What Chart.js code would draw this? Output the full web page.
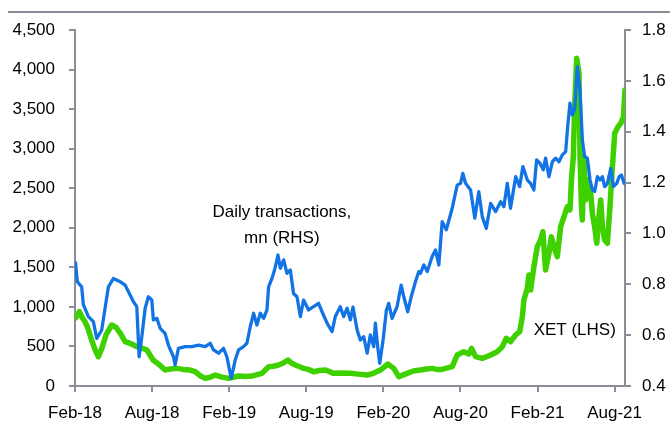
<!DOCTYPE html>
<html>
<head>
<meta charset="utf-8">
<script src="https://cdn.jsdelivr.net/npm/chart.js@4/dist/chart.umd.min.js"></script>
<style>
  html, body { margin: 0; padding: 0; background: #fff; }
  #wrap { width: 670px; height: 423px; position: relative; }
</style>
</head>
<body>
<div id="wrap"><canvas id="chart"></canvas></div>
<script>
'use strict';

// x positions are months since Feb-18
var tickMonths = [0, 6, 12, 18, 24, 30, 36, 42];
var tickLabels = ['Feb-18', 'Aug-18', 'Feb-19', 'Aug-19', 'Feb-20', 'Aug-20', 'Feb-21', 'Aug-21'];

// Daily transactions, mn (RHS)
var txMonths = [0.04, 0.18, 0.52, 0.65, 1.04, 1.43, 1.69, 2.08, 2.60, 2.99, 3.51, 3.90, 4.29, 4.54, 4.81, 4.99,
  5.20, 5.46, 5.71, 5.98, 6.10, 6.37, 6.63, 7.01, 7.27, 7.66, 7.79, 8.05, 8.57, 9.10, 9.61, 10.13, 10.52, 10.78,
  11.17, 11.56, 11.82, 12.16, 12.47, 12.73, 13.12, 13.38, 13.64, 13.90, 14.16, 14.42, 14.68, 14.94, 15.07, 15.33,
  15.53, 15.80, 15.98, 16.24, 16.50, 16.76, 17.01, 17.28, 17.54, 17.79, 18.18, 18.57, 18.96, 19.23, 19.62, 20.01,
  20.26, 20.65, 20.91, 21.18, 21.43, 21.64, 21.96, 22.21, 22.47, 22.74, 22.99, 23.25, 23.38, 23.56, 23.72, 23.98,
  24.24, 24.42, 24.68, 25.07, 25.39, 25.59, 25.90, 26.17, 26.50, 26.76, 26.89, 27.15, 27.42, 27.80, 28.06, 28.32,
  28.58, 28.90, 29.36, 29.75, 30.01, 30.19, 30.40, 30.79, 31.12, 31.43, 31.70, 32.01, 32.35, 32.74, 33.13, 33.38,
  33.65, 33.90, 34.30, 34.61, 34.86, 35.21, 35.46, 35.72, 35.93, 36.19, 36.45, 36.63, 36.89, 37.16, 37.41, 37.67,
  37.93, 38.19, 38.37, 38.53, 38.71, 38.89, 39.10, 39.31, 39.49, 39.67, 39.88, 40.09, 40.27, 40.45, 40.66, 40.87,
  41.05, 41.23, 41.44, 41.70, 41.91, 42.17, 42.35, 42.53, 42.74];
var txValues = [0.885, 0.81, 0.79, 0.72, 0.673, 0.653, 0.587, 0.62, 0.79, 0.823, 0.81, 0.797, 0.758, 0.732, 0.712, 0.515,
  0.594, 0.706, 0.751, 0.738, 0.66, 0.666, 0.627, 0.607, 0.561, 0.515, 0.483, 0.548, 0.555, 0.555, 0.561, 0.555, 0.568, 0.542,
  0.529, 0.548, 0.515, 0.43, 0.502, 0.542, 0.555, 0.568, 0.633, 0.686, 0.64, 0.686, 0.666, 0.699, 0.79, 0.823,
  0.856, 0.915, 0.863, 0.896, 0.843, 0.856, 0.764, 0.751, 0.673, 0.738, 0.699, 0.712, 0.725, 0.692, 0.647, 0.614,
  0.673, 0.712, 0.673, 0.706, 0.66, 0.71, 0.62, 0.581, 0.594, 0.529, 0.601, 0.555, 0.647, 0.555, 0.489, 0.581,
  0.699, 0.725, 0.666, 0.712, 0.797, 0.751, 0.692, 0.751, 0.81, 0.85, 0.843, 0.876, 0.85, 0.909, 0.935, 0.876,
  1.046, 1.014, 1.099, 1.19, 1.197, 1.236, 1.197, 1.171, 1.06, 1.164, 1.066, 1.02, 1.118, 1.086, 1.125, 1.105,
  1.197, 1.099, 1.223, 1.184, 1.263, 1.21, 1.197, 1.171, 1.289, 1.276, 1.25, 1.296, 1.223, 1.282, 1.296, 1.282,
  1.309, 1.322, 1.433, 1.512, 1.466, 1.486, 1.656, 1.564, 1.368, 1.302, 1.296, 1.21, 1.171, 1.165, 1.223, 1.21,
  1.223, 1.184, 1.197, 1.256, 1.184, 1.197, 1.223, 1.23, 1.197];

// XET (LHS)
var xetMonths = [0.04, 0.34, 0.55, 0.78, 1.01, 1.30, 1.56, 1.82, 2.10, 2.42, 2.86, 3.20, 3.51, 3.90, 4.29, 4.81,
  5.20, 5.59, 6.08, 6.63, 7.01, 7.40, 7.93, 8.42, 8.96, 9.35, 9.74, 10.13, 10.52, 10.91, 11.38, 11.95, 12.32,
  12.73, 13.25, 13.77, 14.11, 14.55, 15.07, 15.43, 15.85, 16.21, 16.58, 16.84, 17.15, 17.54, 17.79, 18.16, 18.57,
  19.02, 19.49, 20.13, 20.73, 21.43, 22.06, 22.74, 23.23, 23.77, 24.34, 24.81, 25.20, 25.85, 26.34, 26.89, 27.36,
  27.80, 28.14, 28.58, 28.92, 29.36, 29.75, 30.26, 30.65, 30.87, 31.18, 31.70, 32.03, 32.35, 32.87, 33.26, 33.57,
  33.90, 34.30, 34.61, 34.82, 34.94, 35.21, 35.33, 35.46, 35.72, 35.98, 36.24, 36.42, 36.63, 36.89, 37.08, 37.28,
  37.54, 37.80, 38.06, 38.32, 38.53, 38.64, 38.79, 38.89, 39.05, 39.23, 39.31, 39.42, 39.49, 39.62, 39.75, 39.93,
  40.14, 40.27, 40.45, 40.61, 40.78, 40.92, 41.05, 41.23, 41.44, 41.64, 41.83, 42.01, 42.27, 42.48, 42.69, 42.81];
var xetValues = [860, 939, 870, 813, 729, 580, 460, 370, 480, 650, 771, 740, 670, 560, 540, 497,
  480, 455, 329, 260, 202, 215, 223, 210, 202, 181, 130, 97, 110, 139, 115, 97, 110,
  126, 120, 126, 140, 160, 244, 250, 265, 290, 329, 290, 265, 240, 223, 210, 181,
  195, 202, 160, 165, 160, 150, 139, 160, 202, 278, 223, 118, 160, 190, 202, 215,
  223, 210, 210, 225, 244, 392, 434, 405, 476, 371, 350, 370, 392, 434, 497, 603,
  560, 645, 687, 876, 1087, 1235, 1403, 1213, 1508, 1761, 1845, 1950, 1466, 1677, 1887, 1761,
  1634, 2014, 2140, 2266, 2225, 2604, 2898, 3530, 4142, 3953, 2898, 2266, 2098, 2898, 2351, 2604,
  2436, 2183, 2014, 1804, 2140, 2351, 2014, 1845, 1804, 2266, 2772, 3194, 3278, 3320, 3404, 3741];

var axisGrey = '#8a8f97';
var blue = '#1274e4';
var green = '#3fd000';

function toPoints(xs, ys) {
  return xs.map(function (x, i) {
    return { x: x, y: ys[i] };
  });
}

// Text labels placed in data coordinates (month, LHS value)
var notes = [
  { text: 'Daily transactions,', month: 16.1, value: 2200, align: 'center' },
  { text: 'mn (RHS)', month: 16.1, value: 1870, align: 'center' },
  { text: 'XET (LHS)', month: 35.7, value: 708, align: 'left' }
];

var decorPlugin = {
  id: 'decor',
  beforeDraw: function (chart) {
    var ctx = chart.ctx;
    ctx.save();
    ctx.strokeStyle = axisGrey;
    ctx.lineWidth = 2;
    ctx.beginPath();
    ctx.moveTo(8, 12);
    ctx.lineTo(chart.width, 12);
    ctx.stroke();
    ctx.restore();
  },
  afterDraw: function (chart) {
    var ctx = chart.ctx,
        xs = chart.scales.x,
        ys = chart.scales.yL;
    ctx.save();
    ctx.fillStyle = '#000';
    ctx.font = '17px "Liberation Sans", Arial, sans-serif';
    ctx.textBaseline = 'middle';
    notes.forEach(function (n) {
      ctx.textAlign = n.align;
      ctx.fillText(n.text, xs.getPixelForValue(n.month), ys.getPixelForValue(n.value));
    });
    ctx.restore();
  }
};

Chart.defaults.font.family = '"Liberation Sans", Arial, sans-serif';
Chart.defaults.font.size = 17;
Chart.defaults.color = '#000';

function fixWidth(w) {
  return function (scale) { scale.width = w; };
}

var gridOpts = { drawOnChartArea: false, drawTicks: true, tickLength: 6, color: axisGrey, lineWidth: 2 };
var borderOpts = { display: true, color: axisGrey, width: 2 };

new Chart(document.getElementById('chart'), {
  type: 'line',
  data: {
    datasets: [{
      label: 'Daily transactions, mn (RHS)',
      data: toPoints(txMonths, txValues),
      yAxisID: 'yR',
      borderColor: blue,
      borderWidth: 3.3,
      pointRadius: 0,
      tension: 0,
      borderJoinStyle: 'round',
      borderCapStyle: 'round'
    }, {
      label: 'XET (LHS)',
      data: toPoints(xetMonths, xetValues),
      yAxisID: 'yL',
      borderColor: green,
      borderWidth: 5.5,
      pointRadius: 0,
      tension: 0,
      borderJoinStyle: 'round',
      borderCapStyle: 'round'
    }]
  },
  options: {
    responsive: true,
    maintainAspectRatio: false,
    animation: false,
    layout: { padding: { top: 30, left: 0, right: 0, bottom: 0 } },
    plugins: { legend: { display: false }, tooltip: { enabled: false } },
    scales: {
      x: {
        type: 'linear',
        position: 'bottom',
        min: 0,
        max: xetMonths[xetMonths.length - 1],
        grid: gridOpts,
        border: borderOpts,
        afterBuildTicks: function (scale) {
          scale.ticks = tickMonths.map(function (m) { return { value: m }; });
        },
        afterFit: function (scale) { scale.height = 37; },
        ticks: {
          padding: 11,
          maxRotation: 0,
          autoSkip: false,
          callback: function (value) {
            var i = tickMonths.indexOf(value);
            return i >= 0 ? tickLabels[i] : '';
          }
        }
      },
      yL: {
        type: 'linear',
        position: 'left',
        min: 0,
        max: 4500,
        grid: gridOpts,
        border: borderOpts,
        afterFit: fixWidth(75),
        ticks: {
          stepSize: 500,
          padding: 14,
          callback: function (value) { return value.toLocaleString('en-US'); }
        }
      },
      yR: {
        type: 'linear',
        position: 'right',
        min: 0.4,
        max: 1.8,
        grid: gridOpts,
        border: borderOpts,
        afterFit: fixWidth(45),
        ticks: {
          stepSize: 0.2,
          padding: 11,
          callback: function (value) { return value.toFixed(1); }
        }
      }
    }
  },
  plugins: [decorPlugin]
});
</script>
</body>
</html>
